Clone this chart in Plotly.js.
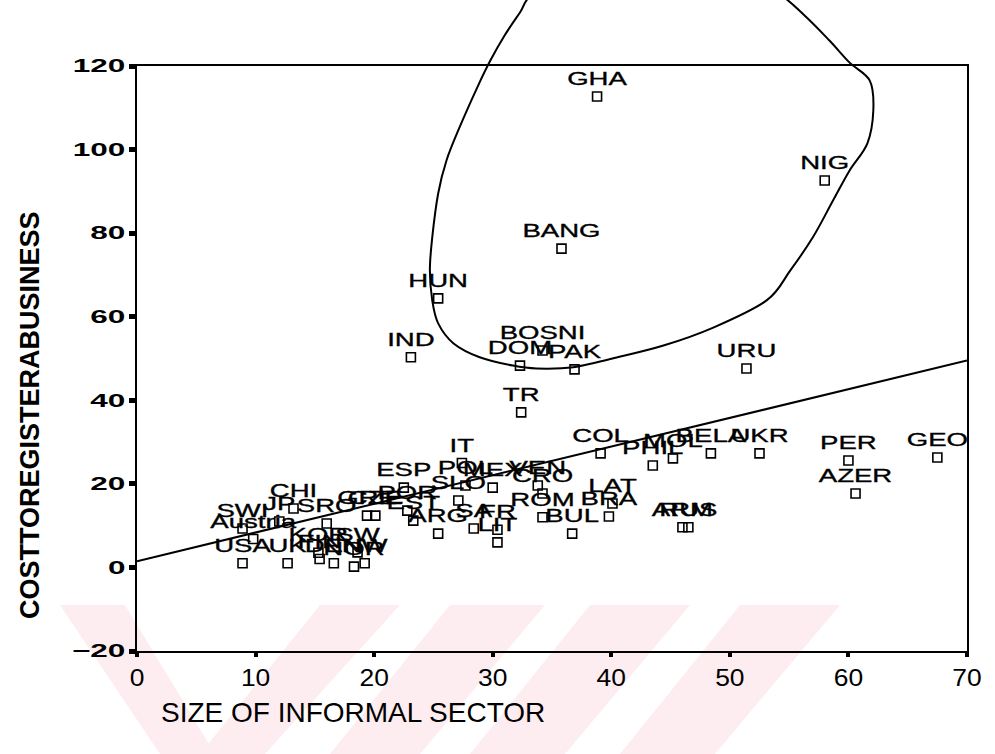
<!DOCTYPE html>
<html><head><meta charset="utf-8">
<script src="https://cdn.plot.ly/plotly-3.0.1.min.js"></script>
<style>html,body{margin:0;padding:0;background:#fff}
.textpoint text{stroke:#000;stroke-width:0.35px}</style>
</head><body>
<div id="chart" style="width:995px;height:754px"></div>
<script>
// ---- data ----
const countries = ["GHA","NIG","BANG","HUN","IND","BOSNI","DOM","PAK","URU","TR",
  "COL","PHIL","MOL","BELA","UKR","PER","GEO","AZER","LAT","BRA","ROM","BUL","ARM","RUS",
  "LIT","FR","SA","ARG","EST","POR","IT","ESP","POL","MEX","VEN","SLO","CRO",
  "CHI","JP","SWI","Austria","SRO","GRE","CZE",
  "USA","UK","KOR","FIN","DEN","NOR","NW","SW"];
const informalSize = [38.8,58.0,35.8,25.4,23.1,34.2,32.3,36.9,51.4,32.4,
  39.1,43.5,45.2,48.4,52.5,60.0,67.5,60.6,40.1,39.8,34.2,36.7,46.0,46.5,
  30.4,30.4,28.4,25.4,23.3,22.8,27.4,22.5,27.7,30.0,33.8,27.1,34.2,
  13.2,12.0,8.9,9.8,16.0,19.4,20.1,
  8.9,12.7,15.3,15.4,16.6,18.3,19.2,18.6];
const registerCost = [112.7,92.6,76.3,64.4,50.3,51.9,48.3,47.4,47.6,37.1,
  27.3,24.4,26.1,27.3,27.3,25.6,26.3,17.7,15.3,12.2,12.0,8.1,9.6,9.6,
  6.0,9.0,9.3,8.1,11.2,13.6,25.0,19.1,19.6,19.1,19.6,16.0,17.7,
  14.1,11.0,9.3,6.8,10.5,12.4,12.4,
  1.0,1.0,3.5,2.0,1.0,0.2,1.0,3.6];
const fitX = [0, 70];
const fitY = [1.5, 49.5];
// hand-drawn loop around the high-cost group (data units; top part runs off the page)
const loopX = [24.9,25.4,26.7,28.9,31.7,33.7,36.8,40.1,44.4,48.6,53.1,55.1,57.0,58.7,60.1,61.6,62.1,61.8,60.1,58.4,56.3,53.8,47.5,39.0,33.6,32.3,31.0,29.8,28.7,27.2,26.1,25.4,24.9,24.7];
const loopY = [63.9,58.4,53.6,50.3,48.3,47.6,47.9,50.0,53.1,57.4,63.9,71.1,79.0,87.8,95.0,101.5,109.4,116.5,120.8,126.1,132.1,138.1,150.0,150.0,138.1,132.8,127.3,121.3,114.9,105.3,97.4,89.5,79.0,71.1];
const xTickVals = [0,10,20,30,40,50,60,70];
const yTickVals = [-20,0,20,40,60,80,100,120];
const xRange = [0,70], yRange = [-20,120];

// ---- build ----
function toPaper(x,y){return [(x-xRange[0])/(xRange[1]-xRange[0]), (y-yRange[0])/(yRange[1]-yRange[0])];}
function loopPath(){
  const n = loopX.length, P = [];
  for(let i=0;i<n;i++) P.push(toPaper(loopX[i],loopY[i]));
  let d = 'M'+P[0][0].toFixed(5)+','+P[0][1].toFixed(5);
  for(let i=0;i<n;i++){
    const p0=P[(i-1+n)%n], p1=P[i], p2=P[(i+1)%n], p3=P[(i+2)%n];
    const c1=[p1[0]+(p2[0]-p0[0])/6, p1[1]+(p2[1]-p0[1])/6];
    const c2=[p2[0]-(p3[0]-p1[0])/6, p2[1]-(p3[1]-p1[1])/6];
    d += ' C'+c1[0].toFixed(5)+','+c1[1].toFixed(5)+' '+c2[0].toFixed(5)+','+c2[1].toFixed(5)+' '+p2[0].toFixed(5)+','+p2[1].toFixed(5);
  }
  return d+' Z';
}
// faint watermark stripes (pixel geometry of the page)
const L=137, W=830, B=651, H=585;
function px(x,y){return [(x-L)/W, (B-y)/H];}
function poly(pts){return pts.map((p,i)=>{const q=px(p[0],p[1]);return (i?'L':'M')+q[0].toFixed(4)+','+q[1].toFixed(4);}).join(' ')+' Z';}
const wm = [
  [[60,605],[125,605],[215,754],[160,754]],
  [[320,605],[400,605],[265,754],[200,754]],
  [[450,605],[545,605],[420,754],[330,754]],
  [[590,605],[690,605],[565,754],[470,754]],
  [[740,605],[840,605],[715,754],[620,754]]
].map(p=>({type:'path',xref:'paper',yref:'paper',path:poly(p),fillcolor:'#fdedf0',line:{width:0},layer:'below'}));

const font = 'Liberation Sans, Arial, Helvetica, sans-serif';
const traces = [
  {x: fitX, y: fitY, mode:'lines', line:{color:'#000', width:2}, hoverinfo:'skip'},
  {x: informalSize, y: registerCost, text: countries, mode:'markers+text', textposition:'top center',
   cliponaxis:false,
   marker:{symbol:'square-open', size:9, color:'#000', line:{width:1.6, color:'#000'}},
   textfont:{family:font, size:19, color:'#000'}}
];
const layout = {
  width:995, height:754,
  margin:{l:137, r:28, t:66, b:103, pad:0},
  paper_bgcolor:'#fff', plot_bgcolor:'rgba(0,0,0,0)',
  showlegend:false,
  xaxis:{range:xRange, tickvals:xTickVals, ticks:'outside', ticklen:4, tickwidth:4, tickcolor:'#000',
    showline:true, mirror:true, linecolor:'#000', linewidth:2, showgrid:false, zeroline:false,
    tickfont:{family:font, size:24, color:'#000'}},
  yaxis:{range:yRange, tickvals:yTickVals, ticks:'outside', ticklen:6, tickwidth:5, tickcolor:'#000',
    showline:true, mirror:true, linecolor:'#000', linewidth:2, showgrid:false, zeroline:false,
    tickfont:{family:font, size:18, color:'#000', weight:'bold'}},
  shapes: wm.concat([{type:'path', xref:'paper', yref:'paper', path:loopPath(), line:{color:'#000', width:2}, fillcolor:'rgba(0,0,0,0)', layer:'above'}]),
  annotations:[
    {text:'SIZE OF INFORMAL SECTOR', xref:'paper', yref:'paper', x:(353-L)/W, y:(B-712)/H, xanchor:'center', yanchor:'middle', showarrow:false,
     font:{family:font, size:28, color:'#000'}},
    {text:'COSTTOREGISTERABUSINESS', xref:'paper', yref:'paper', x:(30-L)/W, y:(B-415)/H, xanchor:'center', yanchor:'middle', showarrow:false, textangle:-90,
     font:{family:font, size:27, color:'#000', weight:'bold'}}
  ]
};
function stretch(sel, f, fixed){
  document.querySelectorAll(sel).forEach(t=>{
    const w = t.getComputedTextLength();
    if(!w) return;
    t.setAttribute('textLength', (fixed ? fixed : w*f).toFixed(1));
    t.setAttribute('lengthAdjust','spacingAndGlyphs');
  });
}
Plotly.newPlot('chart', traces, layout, {staticPlot:true}).then(()=>{
  stretch('.textpoint text', 1.45);
  stretch('.ytick text', 1.75);
  stretch('.xtick text', 1.1);
  stretch('.annotation:nth-of-type(2) .annotation-text', 1, 420);
});
</script>
</body></html>
